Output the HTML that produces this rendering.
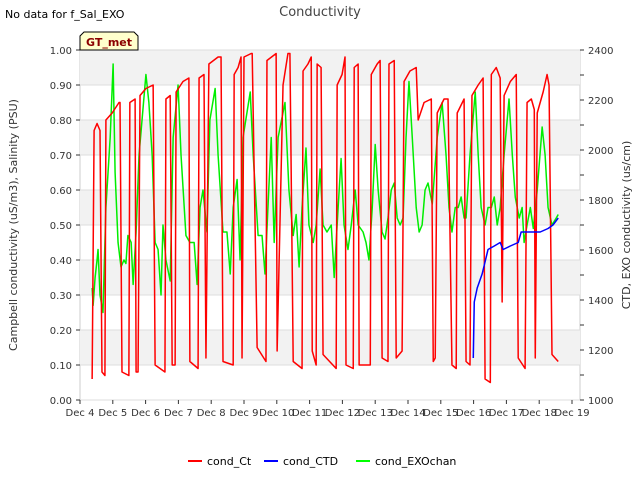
<!DOCTYPE html>
<html><head><meta charset="utf-8"><style>
body{margin:0;background:#fff;font-family:"Liberation Sans",sans-serif}
text{font-family:"DejaVu Sans","Liberation Sans",sans-serif}
</style></head><body>
<svg id="c" width="640" height="480" xmlns="http://www.w3.org/2000/svg">
<text x="5" y="18" font-size="11">No data for f_Sal_EXO</text>
<text x="320" y="16" font-size="13" fill="#444" text-anchor="middle">Conductivity</text>
<g id="plot"></g>
<g>
<path d="M80,50 L80,36 L84,32 L134,32 L138,36 L138,50 Z" fill="#ffffcc" stroke="#000" stroke-width="1"/>
<text x="109" y="46" font-size="11" font-weight="bold" fill="#8b0000" text-anchor="middle">GT_met</text>
</g>
<text transform="translate(17,225) rotate(-90)" font-size="11" fill="#333" text-anchor="middle">Campbell conductivity (uS/m3), Salinity (PSU)</text>
<text transform="translate(630,225) rotate(-90)" font-size="11" fill="#333" text-anchor="middle">CTD, EXO conductivity (us/cm)</text>
<g>
<g><line x1="188" y1="461" x2="202" y2="461" stroke="#f00" stroke-width="2"/><text x="207" y="465" font-size="11">cond_Ct</text></g>
<g><line x1="264" y1="461" x2="278" y2="461" stroke="#00f" stroke-width="2"/><text x="283" y="465" font-size="11">cond_CTD</text></g>
<g><line x1="356" y1="461" x2="370" y2="461" stroke="#0f0" stroke-width="2"/><text x="375" y="465" font-size="11">cond_EXOchan</text></g>
</g>
</svg>
<script>
const redT=[4.37,4.43,4.52,4.61,4.67,4.76,4.79,4.98,5.19,5.22,5.28,5.49,5.52,5.68,5.71,5.77,5.83,6.01,6.23,6.29,6.59,6.62,6.75,6.81,6.90,6.93,7.14,7.32,7.35,7.60,7.63,7.78,7.84,7.93,8.21,8.30,8.36,8.67,8.70,8.82,8.91,8.94,9.00,9.22,9.25,9.40,9.67,9.70,9.98,10.01,10.19,10.34,10.40,10.50,10.77,10.80,10.95,11.05,11.08,11.20,11.23,11.35,11.41,11.81,11.84,11.99,12.08,12.11,12.33,12.36,12.48,12.51,12.85,12.88,13.06,13.15,13.21,13.39,13.42,13.58,13.64,13.82,13.88,14.06,14.25,14.31,14.49,14.71,14.77,14.83,14.89,15.10,15.22,15.34,15.47,15.50,15.71,15.77,15.89,15.95,16.14,16.29,16.35,16.51,16.54,16.69,16.81,16.87,16.93,17.12,17.30,17.36,17.57,17.63,17.76,17.85,17.88,17.94,18.12,18.24,18.30,18.39,18.58];
const redV=[.06,.77,.79,.77,.08,.07,.80,.82,.85,.85,.08,.07,.85,.86,.08,.08,.87,.89,.90,.10,.08,.86,.87,.10,.10,.88,.91,.92,.11,.09,.92,.93,.12,.96,.98,.98,.11,.10,.93,.95,.98,.12,.98,.99,.99,.15,.11,.97,.99,.14,.90,.99,.99,.11,.09,.94,.96,.98,.14,.10,.96,.95,.13,.09,.90,.93,.98,.10,.09,.95,.96,.10,.10,.93,.96,.97,.12,.11,.96,.97,.12,.14,.91,.94,.95,.80,.85,.86,.11,.12,.82,.86,.86,.10,.09,.82,.86,.11,.10,.87,.90,.92,.06,.05,.93,.95,.92,.28,.87,.91,.93,.12,.09,.85,.86,.83,.12,.82,.88,.93,.90,.13,.11];
const greenT=[4.37,4.40,4.46,4.52,4.55,4.61,4.70,4.79,4.92,5.01,5.07,5.16,5.25,5.34,5.40,5.46,5.56,5.62,5.71,5.80,6.01,6.10,6.20,6.29,6.38,6.47,6.53,6.62,6.75,6.84,6.99,7.08,7.23,7.35,7.48,7.57,7.66,7.75,7.87,7.96,8.12,8.21,8.36,8.48,8.58,8.67,8.79,8.88,8.97,9.19,9.28,9.43,9.55,9.64,9.73,9.83,9.92,10.04,10.25,10.37,10.50,10.59,10.68,10.77,10.89,10.98,11.11,11.20,11.32,11.41,11.53,11.66,11.75,11.87,11.96,12.05,12.17,12.27,12.39,12.48,12.63,12.72,12.81,12.91,13.00,13.09,13.21,13.30,13.39,13.49,13.58,13.67,13.76,13.85,13.94,14.03,14.13,14.25,14.34,14.43,14.52,14.61,14.74,14.89,15.04,15.16,15.25,15.34,15.44,15.53,15.62,15.71,15.77,15.89,16.05,16.14,16.23,16.35,16.44,16.54,16.63,16.72,16.81,16.93,17.08,17.18,17.27,17.39,17.48,17.54,17.63,17.73,17.82,17.94,18.09,18.18,18.27,18.39,18.52,18.58];
const greenV=[.32,.27,.35,.40,.43,.30,.25,.55,.75,.96,.65,.45,.38,.40,.39,.47,.45,.33,.48,.70,.93,.85,.70,.45,.43,.30,.50,.40,.34,.75,.90,.70,.47,.45,.45,.33,.55,.60,.48,.80,.89,.70,.48,.48,.36,.55,.63,.40,.75,.88,.70,.47,.47,.36,.55,.75,.45,.75,.85,.60,.47,.53,.38,.55,.72,.50,.45,.50,.66,.50,.48,.50,.35,.55,.69,.50,.43,.50,.60,.50,.48,.45,.40,.55,.73,.60,.48,.46,.52,.60,.62,.52,.50,.52,.75,.91,.75,.55,.48,.50,.60,.62,.56,.75,.85,.70,.55,.48,.55,.55,.58,.52,.52,.70,.88,.70,.55,.50,.55,.55,.58,.50,.55,.70,.86,.70,.58,.52,.55,.45,.50,.55,.49,.60,.78,.70,.55,.50,.52,.53];
const blueT=[15.99,16.02,16.11,16.26,16.44,16.63,16.81,16.90,17.12,17.36,17.45,17.73,18.03,18.27,18.42,18.58];
const blueV=[.12,.28,.32,.36,.43,.44,.45,.43,.44,.45,.48,.48,.48,.49,.50,.52];
const xTicks=["Dec 4","Dec 5","Dec 6","Dec 7","Dec 8","Dec 9","Dec 10","Dec 11","Dec 12","Dec 13","Dec 14","Dec 15","Dec 16","Dec 17","Dec 18","Dec 19"];
const yLeftTicks=[0,0.1,0.2,0.3,0.4,0.5,0.6,0.7,0.8,0.9,1.0];
const yRightTicks=[1000,1200,1400,1600,1800,2000,2200,2400];
const NS="http://www.w3.org/2000/svg";
const L=80,R=580,T=50,B=400;
const X=d=>L+(d-4)*(492/15);
const Y=v=>B-v*(B-T);
const YR=v=>B-(v-1000)/1400*(B-T);
const g=document.getElementById('plot');
function mk(tag,attrs,parent){const e=document.createElementNS(NS,tag);for(const k in attrs)e.setAttribute(k,attrs[k]);(parent||g).appendChild(e);return e;}
const bg=mk('rect',{x:L,y:T,width:R-L,height:B-T,fill:'#fff',stroke:'#ccc'});


for(let i=1;i<10;i+=2){const band=mk('rect',{x:L,y:Y(yLeftTicks[i+1]),width:R-L,height:Y(yLeftTicks[i])-Y(yLeftTicks[i+1]),fill:'#f2f2f2'});

}
yLeftTicks.forEach(v=>{const ln=mk('line',{x1:L,x2:R,y1:Y(v),y2:Y(v),stroke:'#ddd'});


mk('line',{x1:L-4,x2:L,y1:Y(v),y2:Y(v),stroke:'#333'});
const t=mk('text',{x:L-8,y:Y(v)+4,'font-size':10,'text-anchor':'end',fill:'#333'});t.textContent=v.toFixed(2);

});
for(let v=1000;v<=2400;v+=100){mk('line',{x1:R,x2:R+4,y1:YR(v),y2:YR(v),stroke:'#333'});}
yRightTicks.forEach(v=>{const t=mk('text',{x:R+8,y:YR(v)+4,'font-size':10,fill:'#333'});t.textContent=v;

});
xTicks.forEach((s,i)=>{const x=X(4+i);mk('line',{x1:x,x2:x,y1:B,y2:B+4,stroke:'#333'});
const t=mk('text',{x:x,y:B+16,'font-size':10,'text-anchor':'middle',fill:'#333'});t.textContent=s;

});
function line(ts,vs,color,name){const p=mk('polyline',{points:ts.map((t,i)=>X(t)+','+Y(vs[i])).join(' '),fill:'none',stroke:color,'stroke-width':1.5,'stroke-linejoin':'round'});

}
line(greenT,greenV,'#00ee00','series-cond-exochan');
line(redT,redV,'#ff0000','series-cond-ct');
line(blueT,blueV,'#0000ff','series-cond-ctd');
</script>
</body></html>
